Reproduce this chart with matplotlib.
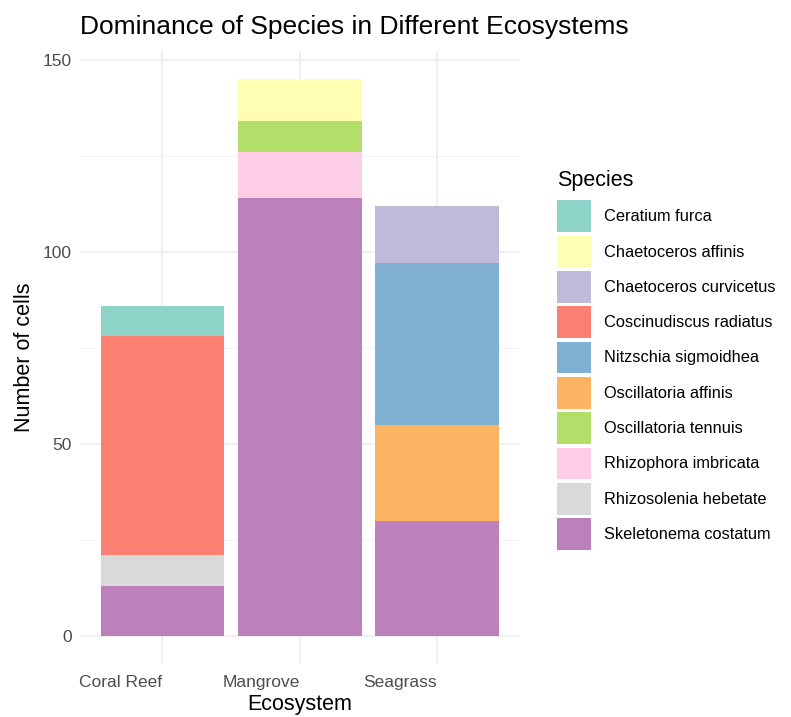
import numpy as np
import matplotlib.pyplot as plt

plt.rcParams['font.family'] = ['Liberation Sans', 'DejaVu Sans']

# datos
ecosystems = ['Coral Reef', 'Mangrove', 'Seagrass']
species = ['Ceratium furca', 'Chaetoceros affinis', 'Chaetoceros curvicetus',
           'Coscinudiscus radiatus', 'Nitzschia sigmoidhea', 'Oscillatoria affinis',
           'Oscillatoria tennuis', 'Rhizophora imbricata', 'Rhizosolenia hebetate',
           'Skeletonema costatum']
ceratium = [8, 0, 0]
chaeto_aff = [0, 11, 0]
chaeto_curv = [0, 0, 15]
coscino = [57, 0, 0]
nitzschia = [0, 0, 42]
oscill_aff = [0, 0, 25]
oscill_ten = [0, 8, 0]
rhizophora = [0, 12, 0]
rhizosolenia = [8, 0, 0]
skeletonema = [13, 114, 30]
counts = [ceratium, chaeto_aff, chaeto_curv, coscino, nitzschia,
          oscill_aff, oscill_ten, rhizophora, rhizosolenia, skeletonema]
colors = ['#8DD3C7', '#FFFFB3', '#BEBADA', '#FB8072', '#80B1D3',
          '#FDB462', '#B3DE69', '#FCCDE5', '#D9D9D9', '#BC80BD']

fig = plt.figure(figsize=(7.91, 7.17), dpi=100)
ax = fig.add_axes([0.101, 0.074, 0.556, 0.855])

x = np.arange(1, len(ecosystems) + 1)
bottom = np.zeros(len(ecosystems))
bars = {}
# apilado: el ultimo nivel abajo (como ggplot)
for name, vals, col in reversed(list(zip(species, counts, colors))):
    vals = np.array(vals, dtype=float)
    bars[name] = ax.bar(x, vals, width=0.9, bottom=bottom, color=col,
                        linewidth=0, label=name, zorder=2)
    bottom += vals

ax.set_xlim(0.4, 3.6)
ax.set_ylim(-7.25, 152.25)
ax.set_yticks([0, 50, 100, 150])
ax.set_yticks([25, 75, 125], minor=True)
ax.set_xticks(x)
ax.set_xticklabels(ecosystems, ha='right')
ax.grid(which='major', color='#EBEBEB', linewidth=1.1, zorder=0)
ax.grid(which='minor', axis='y', color='#F2F2F2', linewidth=0.6, zorder=0)
ax.tick_params(which='both', length=0, labelsize=12.5, labelcolor='#4D4D4D')
ax.tick_params(axis='x', pad=8)
ax.tick_params(axis='y', pad=6)
for s in ax.spines.values():
    s.set_visible(False)

ax.set_xlabel('Ecosystem', fontsize=15.5, labelpad=3)
ax.set_ylabel('Number of cells', fontsize=15.5, labelpad=5)
ax.set_title('Dominance of Species in Different Ecosystems', fontsize=19,
             loc='left', pad=12, x=0.0)

handles = [bars[n] for n in species]
leg = ax.legend(handles, species, title='Species', loc='upper left',
                bbox_to_anchor=(1.069, 0.817), frameon=False, fontsize=11.8,
                title_fontsize=15.5, handlelength=2.1, handleheight=2.6,
                labelspacing=0.22, handletextpad=0.8, borderaxespad=0)
leg._legend_box.align = 'left'
leg._legend_box.sep = 7

plt.savefig('out.png', dpi=100)
